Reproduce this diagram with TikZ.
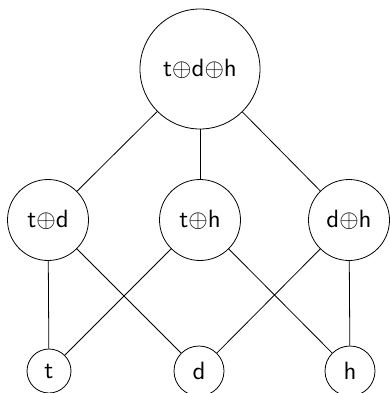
\RequirePackage{fix-cm}
\documentclass[tikz,border=0pt]{standalone}
\usepackage{fontspec}
\setsansfont{lmsans10-regular.otf}
\newcommand{\nodetxt}{\fontsize{25pt}{29pt}\selectfont\sffamily}
\begin{document}
\begin{tikzpicture}[x=1pt,y=-1pt,
  cnode/.style={draw,circle,inner sep=0pt,line width=0.8pt,font=\nodetxt},
  big/.style={cnode,minimum size=120pt},
  mid/.style={cnode,minimum size=81pt},
  small/.style={cnode,minimum size=50pt},
  tiny/.style={cnode,minimum size=44pt},
  edge/.style={line width=0.8pt}]
\useasboundingbox (0,0) rectangle (390,393);
\node[big] (tdh) at (200,69) {t$\oplus$d$\oplus$h};
\node[mid] (td) at (48,220) {t$\oplus$d};
\node[mid] (th) at (200,220) {t$\oplus$h};
\node[mid] (dh) at (349,220) {d$\oplus$h};
\node[tiny] (t) at (49,371) {t};
\node[small] (d) at (199,371) {d};
\node[small] (h) at (350,371) {h};
\draw[edge] (tdh) -- (td);
\draw[edge] (tdh) -- (th);
\draw[edge] (tdh) -- (dh);
\draw[edge] (td) -- (t);
\draw[edge] (td) -- (d);
\draw[edge] (th) -- (t);
\draw[edge] (th) -- (h);
\draw[edge] (dh) -- (d);
\draw[edge] (dh) -- (h);
\end{tikzpicture}
\end{document}
